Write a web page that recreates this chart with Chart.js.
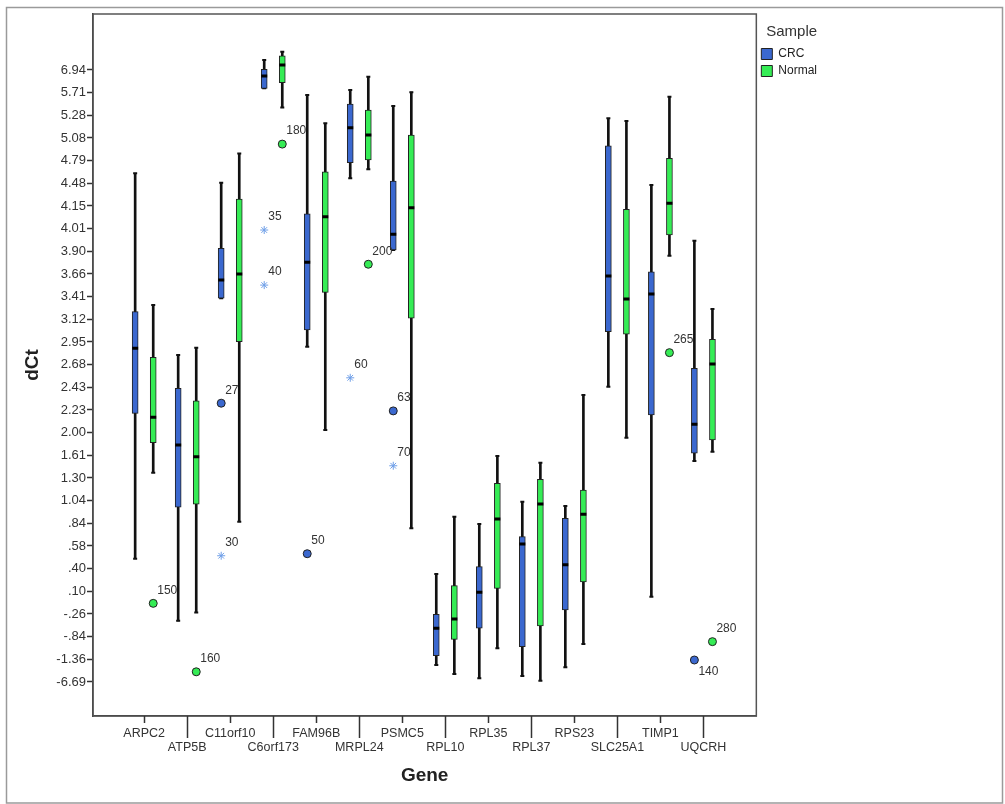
<!DOCTYPE html>
<html>
<head>
<meta charset="utf-8">
<title>dCt by gene and sample</title>
<script src="https://cdn.jsdelivr.net/npm/chart.js@4.4.1/dist/chart.umd.min.js"></script>
<style>
  html, body { margin: 0; padding: 0; background: #fff; }
  canvas { display: block; }
</style>
</head>
<body>
<canvas id="geneChart" width="1005" height="804"></canvas>
<script>
// The dCt axis is ordinal: labels are evenly spaced, position 0 = -6.69 ... 27 = 6.94.
// All values below are positions on that axis.
const dctTicks = ['-6.69', '-1.36', '-.84', '-.26', '.10', '.40', '.58', '.84', '1.04', '1.30',
  '1.61', '2.00', '2.23', '2.43', '2.68', '2.95', '3.12', '3.41', '3.66', '3.90',
  '4.01', '4.15', '4.48', '4.79', '5.08', '5.28', '5.71', '6.94'];

const genes = ['ARPC2', 'ATP5B', 'C11orf10', 'C6orf173', 'FAM96B', 'MRPL24', 'PSMC5',
  'RPL10', 'RPL35', 'RPL37', 'RPS23', 'SLC25A1', 'TIMP1', 'UQCRH'];

// CRC box statistics
const crcMin = [5.44, 2.70, 16.93, 26.19, 14.79, 22.22, 19.06, 0.75, 0.16, 0.26, 0.65, 13.03, 3.76, 9.75];
const crcQ1  = [11.85, 7.71, 16.93, 26.19, 15.53, 22.91, 19.06, 1.16, 2.37, 1.56, 3.18, 15.45, 11.78, 10.09];
const crcMed = [14.72, 10.46, 17.74, 26.73, 18.52, 24.45, 19.75, 2.37, 3.96, 6.09, 5.17, 17.91, 17.12, 11.37];
const crcQ3  = [16.34, 12.96, 19.13, 27.03, 20.65, 25.50, 22.10, 2.99, 5.09, 6.41, 7.22, 23.65, 18.10, 13.84];
const crcMax = [22.44, 14.43, 22.03, 27.44, 25.90, 26.12, 25.41, 4.76, 6.97, 7.95, 7.76, 24.87, 21.93, 19.47];

// Normal box statistics
const nrmMin = [9.23, 3.07, 7.07, 25.34, 11.12, 22.62, 6.78, 0.35, 1.49, 0.06, 1.68, 10.78, 18.81, 10.16];
const nrmQ1  = [10.56, 7.84, 15.01, 26.44, 17.19, 23.03, 16.05, 1.88, 4.13, 2.47, 4.42, 15.34, 19.72, 10.68];
const nrmMed = [11.68, 9.94, 18.00, 27.22, 20.53, 24.13, 20.92, 2.78, 7.19, 7.85, 7.40, 16.90, 21.12, 14.03];
const nrmQ3  = [14.32, 12.40, 21.31, 27.63, 22.51, 25.23, 24.13, 4.25, 8.77, 8.94, 8.47, 20.85, 23.10, 15.12];
const nrmMax = [16.63, 14.75, 23.32, 27.81, 24.65, 26.70, 26.02, 7.29, 9.97, 9.67, 12.66, 24.75, 25.82, 16.46];

// outliers (circles) and extremes (stars), with case numbers
const crcOutGene = [2, 4, 6, 13];
const crcOutVal  = [12.30, 5.66, 11.96, 0.97];
const crcOutCase = ['27', '50', '63', '140'];

const crcFarGene = [2, 3, 3, 5, 6];
const crcFarVal  = [5.57, 19.94, 17.51, 13.42, 9.54];
const crcFarCase = ['30', '35', '40', '60', '70'];

const nrmOutGene = [0, 1, 3, 5, 12, 13];
const nrmOutVal  = [3.47, 0.45, 23.73, 18.43, 14.53, 1.78];
const nrmOutCase = ['150', '160', '180', '200', '265', '280'];

const CRC_COLOR = '#3b68cf';
const NRM_COLOR = '#35ec55';
const SHIFT = 0.21; // CRC left of the gene tick, Normal right of it
const FONT = '"Liberation Sans", Arial, sans-serif';

Chart.defaults.font.family = FONT;
Chart.defaults.color = '#333';

function ranges(lo, hi, shift) {
  return lo.map((v, i) => ({ x: i + shift, y: [v, hi[i]] }));
}
function points(vals, shift, idx) {
  return vals.map((v, i) => ({ x: (idx ? idx[i] : i) + shift, y: v }));
}

function whiskers(lo, hi, shift) {
  return {
    type: 'bar', data: ranges(lo, hi, shift), backgroundColor: '#111', borderWidth: 0,
    grouped: false, barThickness: 2, maxBarThickness: 2, order: 4
  };
}
function caps(lo, hi, shift) {
  return {
    type: 'scatter', data: points(lo, shift).concat(points(hi, shift)),
    pointStyle: 'line', pointRadius: 2, pointBorderWidth: 2, pointBorderColor: '#111', order: 4
  };
}
function boxes(label, lo, hi, shift, color) {
  return {
    type: 'bar', label: label, data: ranges(lo, hi, shift), backgroundColor: color,
    borderColor: '#222', borderWidth: 1, borderSkipped: false,
    grouped: false, barThickness: 6, maxBarThickness: 6, order: 3
  };
}
function medians(vals, shift) {
  return {
    type: 'scatter', data: points(vals, shift),
    pointStyle: 'line', pointRadius: 3, pointBorderWidth: 3, pointBorderColor: '#000', order: 2
  };
}
function outliers(gene, vals, cases, shift, style, fill, line) {
  return {
    type: 'scatter', data: points(vals, shift, gene), caseLabels: cases,
    pointStyle: style, pointRadius: 4, pointBackgroundColor: fill,
    pointBorderColor: line, pointBorderWidth: 1, order: 1
  };
}

// case numbers next to outliers; '140' sits below its point
const caseLabelPlugin = {
  id: 'caseLabels',
  afterDatasetsDraw(chart) {
    const ctx = chart.ctx;
    ctx.save();
    ctx.font = '12px ' + FONT;
    ctx.fillStyle = '#333';
    ctx.textBaseline = 'middle';
    chart.data.datasets.forEach((ds, di) => {
      if (!ds.caseLabels) return;
      chart.getDatasetMeta(di).data.forEach((pt, i) => {
        const txt = ds.caseLabels[i];
        const dy = txt === '140' ? 12 : -13;
        ctx.fillText(txt, pt.x + 4, pt.y + dy);
      });
    });
    ctx.restore();
  }
};

// outer picture border, plot frame and the staggered x ticks
const framePlugin = {
  id: 'frame',
  beforeDraw(chart) {
    const { ctx, width, height } = chart;
    ctx.save();
    ctx.fillStyle = '#fff';
    ctx.fillRect(0, 0, width, height);
    ctx.strokeStyle = '#9a9a9a';
    ctx.lineWidth = 1.5;
    ctx.strokeRect(6.5, 7.5, width - 9, height - 8.5);
    ctx.restore();
  },
  afterDraw(chart) {
    const { ctx, chartArea: a } = chart;
    const xs = chart.scales.x;
    ctx.save();
    ctx.strokeStyle = '#555';
    ctx.lineWidth = 1.5;
    ctx.strokeRect(a.left, a.top, a.right - a.left, a.bottom - a.top);
    ctx.strokeStyle = '#333';
    xs.ticks.forEach((t, i) => {
      const px = Math.round(xs.getPixelForValue(t.value)) + 0.5;
      ctx.beginPath();
      ctx.moveTo(px, a.bottom);
      ctx.lineTo(px, a.bottom + (i % 2 ? 22 : 7));
      ctx.stroke();
    });
    ctx.restore();
  }
};

new Chart(document.getElementById('geneChart'), {
  type: 'bar',
  data: {
    datasets: [
      whiskers(crcMin, crcMax, -SHIFT),
      whiskers(nrmMin, nrmMax, SHIFT),
      caps(crcMin, crcMax, -SHIFT),
      caps(nrmMin, nrmMax, SHIFT),
      boxes('CRC', crcQ1, crcQ3, -SHIFT, CRC_COLOR),
      boxes('Normal', nrmQ1, nrmQ3, SHIFT, NRM_COLOR),
      medians(crcMed, -SHIFT),
      medians(nrmMed, SHIFT),
      outliers(crcOutGene, crcOutVal, crcOutCase, -SHIFT, 'circle', CRC_COLOR, '#222'),
      outliers(crcFarGene, crcFarVal, crcFarCase, -SHIFT, 'star', '#6f9fe8', '#6f9fe8'),
      outliers(nrmOutGene, nrmOutVal, nrmOutCase, SHIFT, 'circle', NRM_COLOR, '#222')
    ]
  },
  options: {
    responsive: false,
    animation: false,
    events: [],
    layout: { padding: { top: 14, right: 178, bottom: 0, left: 0 } },
    scales: {
      x: {
        type: 'linear',
        offset: false,
        min: -1.19,
        max: 14.23,
        afterBuildTicks: axis => { axis.ticks = genes.map((g, i) => ({ value: i })); },
        afterFit: axis => { axis.height = 88; },
        grid: { display: false, offset: false },
        border: { display: true, color: '#333', width: 1.5 },
        ticks: {
          autoSkip: false,
          maxRotation: 0,
          padding: 3,
          font: { size: 12.5, lineHeight: 1.1 },
          color: '#333',
          callback: v => (v % 2 === 0 ? [genes[v]] : ['', genes[v]])
        },
        title: {
          display: true, text: 'Gene', color: '#222',
          font: { size: 19, weight: 'bold' }, padding: { top: 0, bottom: 17 }
        }
      },
      y: {
        type: 'linear',
        min: -1.5,
        max: 29.47,
        afterBuildTicks: axis => { axis.ticks = dctTicks.map((t, i) => ({ value: i })); },
        afterFit: axis => { axis.width = 93; },
        grid: { drawOnChartArea: false, drawTicks: true, tickLength: 6, tickColor: '#333', tickWidth: 1.5 },
        border: { display: true, color: '#333', width: 1.5 },
        ticks: {
          autoSkip: false,
          padding: 1,
          font: { size: 13 },
          color: '#333',
          callback: v => dctTicks[v]
        },
        title: {
          display: true, text: 'dCt', color: '#222',
          font: { size: 19, weight: 'bold' }, padding: { top: 21, bottom: 0 }
        }
      }
    },
    plugins: {
      tooltip: { enabled: false },
      legend: {
        position: 'right',
        align: 'start',
        title: {
          display: true, text: 'Sample', position: 'center', color: '#333',
          font: { size: 15 }, padding: { top: 10, bottom: 1 }
        },
        labels: {
          boxWidth: 11,
          boxHeight: 11,
          padding: 5,
          color: '#222',
          font: { size: 12 },
          filter: item => !!item.text
        }
      }
    }
  },
  plugins: [framePlugin, caseLabelPlugin]
});
</script>
</body>
</html>
